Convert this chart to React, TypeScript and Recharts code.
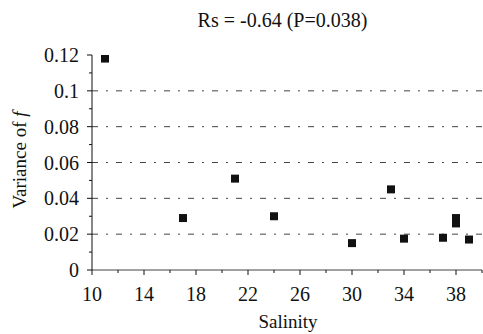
import React from "react";
import {
  ScatterChart,
  Scatter,
  XAxis,
  YAxis,
  ZAxis,
  ReferenceLine,
  Label,
} from "recharts";

const salinity = [11, 17, 21, 24, 30, 33, 34, 37, 38, 38, 39];
const variance = [0.118, 0.029, 0.051, 0.03, 0.015, 0.045, 0.0175, 0.018, 0.029, 0.026, 0.017];

const xTicks = [10, 12, 14, 16, 18, 20, 22, 24, 26, 28, 30, 32, 34, 36, 38, 40];
const xLabelled = [10, 14, 18, 22, 26, 30, 34, 38];
const yTicks = [0, 0.01, 0.02, 0.03, 0.04, 0.05, 0.06, 0.07, 0.08, 0.09, 0.1, 0.11, 0.12];
const yLabelled = [0, 0.02, 0.04, 0.06, 0.08, 0.1, 0.12];
const gridLines = [0.02, 0.04, 0.06, 0.08, 0.1];

const FONT = "Liberation Serif, DejaVu Serif, serif";
const INK = "#111";

const data = salinity.map((s, i) => ({ s, v: variance[i] }));

function XTick(props: any) {
  const { x, y, payload } = props;
  const v = payload.value as number;
  const major = xLabelled.includes(v);
  return (
    <g>
      <line x1={x} x2={x} y1={y} y2={y + (major ? 5 : 3)} stroke={INK} />
      {major && (
        <text x={x} y={y + 31} textAnchor="middle" style={{ fontFamily: FONT }} fontSize={20} fill={INK}>
          {v}
        </text>
      )}
    </g>
  );
}

function YTick(props: any) {
  const { x, y, payload } = props;
  const v = Math.round((payload.value as number) * 100) / 100;
  const major = yLabelled.some((t) => Math.abs(t - v) < 1e-9);
  return (
    <g>
      <line x1={x} x2={x - (major ? 5 : 3)} y1={y} y2={y} stroke={INK} />
      {major && (
        <text x={x - 13} y={y + 7} textAnchor="end" style={{ fontFamily: FONT }} fontSize={20} fill={INK}>
          {String(v)}
        </text>
      )}
    </g>
  );
}

export default function App() {
  return (
    <div style={{ position: "absolute", left: 0, top: 0, width: 483, height: 334, background: "#fff", fontFamily: FONT }}>
      <div
        style={{
          position: "absolute",
          left: 82,
          width: 401,
          top: 9,
          textAlign: "center",
          fontFamily: FONT,
          fontSize: 20,
          color: INK,
        }}
      >
        Rs = -0.64 (P=0.038)
      </div>
      <ScatterChart width={483} height={334} margin={{ top: 55, right: 1, left: 0, bottom: 0 }} style={{ fontFamily: FONT }}>
        <XAxis
          type="number"
          dataKey="s"
          domain={[10, 40]}
          ticks={xTicks}
          interval={0}
          tickSize={0}
          tickMargin={0}
          tickLine={false}
          tick={<XTick />}
          height={64}
          stroke="#444"
          allowDataOverflow
        >
          <Label
            content={() => (
              <text x={288} y={328} textAnchor="middle" style={{ fontFamily: FONT }} fontSize={19} fill={INK}>
                Salinity
              </text>
            )}
          />
        </XAxis>
        <YAxis
          type="number"
          dataKey="v"
          domain={[0, 0.12]}
          ticks={yTicks}
          interval={0}
          tickSize={0}
          tickMargin={0}
          tickLine={false}
          tick={<YTick />}
          width={92}
          stroke={INK}
          allowDataOverflow
        >
          <Label
            content={() => (
              <text
                transform="translate(26,160) rotate(-90)"
                textAnchor="middle"
                style={{ fontFamily: FONT }}
                fontSize={19}
                fill={INK}
              >
                Variance of <tspan fontStyle="italic">f</tspan>
              </text>
            )}
          />
        </YAxis>
        <ZAxis range={[100, 100]} />
        {gridLines.map((g) => (
          <ReferenceLine key={g} y={g} stroke="#444" strokeDasharray="6 8 2 8" />
        ))}
        <Scatter data={data} shape="square" fill={INK} isAnimationActive={false} />
      </ScatterChart>
    </div>
  );
}
